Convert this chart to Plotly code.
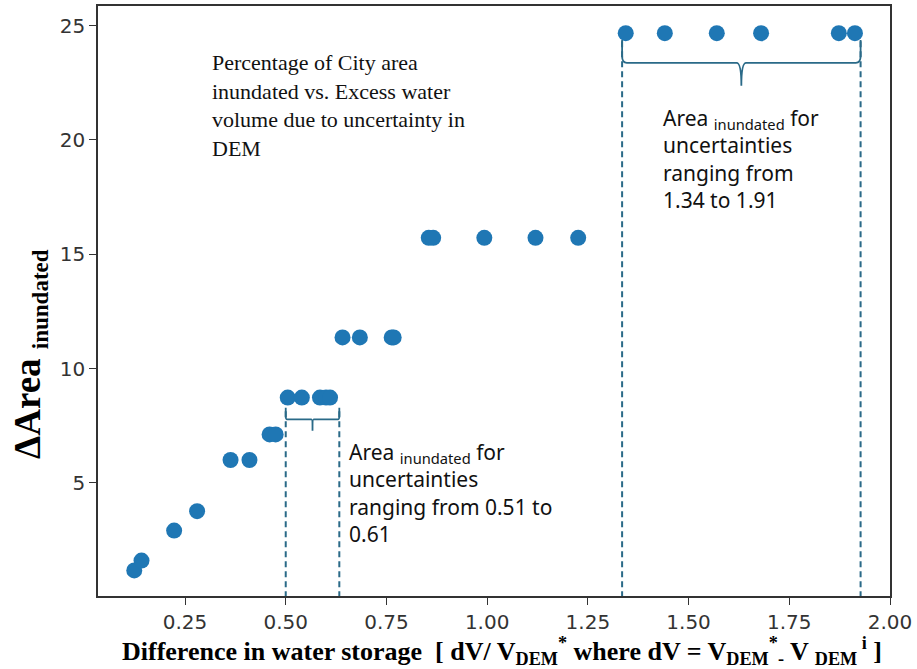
import plotly.graph_objects as go

# ---- data ----
x_vals = [0.124, 0.142, 0.223, 0.280, 0.363, 0.410, 0.460, 0.475,
          0.505, 0.540, 0.585, 0.600, 0.610,
          0.641, 0.684, 0.763, 0.768,
          0.855, 0.866, 0.993, 1.120, 1.226,
          1.344, 1.441, 1.570, 1.680, 1.873, 1.913]
y_vals = [1.17, 1.60, 2.91, 3.76, 6.00, 6.00, 7.12, 7.12,
          8.73, 8.73, 8.73, 8.73, 8.73,
          11.36, 11.36, 11.36, 11.36,
          15.72, 15.72, 15.72, 15.72, 15.72,
          24.67, 24.67, 24.67, 24.67, 24.67, 24.67]

# uncertainty ranges marked with dashed lines and braces
range_start = [0.500, 1.335]
range_end = [0.633, 1.927]
range_level = [8.73, 24.67]
range_labels = ["0.51 to<br>0.61", "1.34 to 1.91"]

x_ticks = [0.25, 0.50, 0.75, 1.00, 1.25, 1.50, 1.75, 2.00]
y_ticks = [5, 10, 15, 20, 25]

# ---- styles ----
marker_color = "#1f77b4"
accent = "#2a6a88"
arm_gap = [0.45, 0.30]      # gap between points row and brace arms (y units)
brace_depth = [1.0, 2.0]    # total brace height (y units)

fig = go.Figure()
fig.add_trace(go.Scatter(
    x=x_vals, y=y_vals, mode="markers",
    marker=dict(size=16, color=marker_color, line=dict(width=0)),
    showlegend=False, hoverinfo="x+y"))

shapes = []
for x0, x1, lvl, gap, depth in zip(range_start, range_end, range_level, arm_gap, brace_depth):
    top = lvl - gap
    yh = top - depth * 0.5
    tip = top - depth
    xm = (x0 + x1) / 2
    dx = (x1 - x0) * 0.02
    for xv in (x0, x1):
        shapes.append(dict(type="line", xref="x", yref="y", x0=xv, x1=xv, y0=0, y1=top,
                           line=dict(color=accent, width=2, dash="6px,4px")))
    r = depth * 0.15
    path = (f"M {x0},{top} L {x0},{yh + r} Q {x0},{yh} {x0 + dx},{yh} "
            f"L {xm - dx},{yh} Q {xm},{yh} {xm},{tip} "
            f"Q {xm},{yh} {xm + dx},{yh} L {x1 - dx},{yh} "
            f"Q {x1},{yh} {x1},{yh + r} L {x1},{top}")
    shapes.append(dict(type="path", xref="x", yref="y", path=path,
                       line=dict(color=accent, width=1.8)))

sans = "Noto Sans"
serif = "Liberation Serif"
annotations = [
    dict(xref="paper", yref="paper", x=0.142, y=0.928, xanchor="left", yanchor="top",
         align="left", showarrow=False,
         text="Percentage of City area<br>inundated vs. Excess water<br>volume due to uncertainty in<br>DEM",
         font=dict(family=serif, size=22, color="#111")),
    dict(xref="paper", yref="paper", x=0.711, y=0.838, xanchor="left", yanchor="top",
         align="left", showarrow=False,
         text=f"Area <sub>inundated</sub> for<br>uncertainties<br>ranging from<br>{range_labels[1]}",
         font=dict(family=sans, size=21, color="#111")),
    dict(xref="paper", yref="paper", x=0.314, y=0.272, xanchor="left", yanchor="top",
         align="left", showarrow=False,
         text=f"Area <sub>inundated</sub> for<br>uncertainties<br>ranging from {range_labels[0]}",
         font=dict(family=sans, size=21, color="#111")),
    dict(xref="paper", yref="paper", x=-0.086, y=0.41, xanchor="center", yanchor="middle",
         showarrow=False, textangle=-90,
         text="<b>ΔArea <sub><span style='font-size:23px'>inundated</span></sub></b>",
         font=dict(family=serif, size=37, color="#000")),
    dict(xref="paper", yref="paper", x=0.51, y=-0.094, xanchor="center", yanchor="middle",
         showarrow=False,
         text=("<b>Difference in water storage  [ dV/ V<sub>DEM</sub><sup>*</sup> where dV = "
               "V<sub>DEM</sub><sup>*</sup><sub>-</sub> V <sub>DEM</sub><sup> i</sup> ]</b>"),
         font=dict(family=serif, size=26, color="#000")),
]

axis_common = dict(showline=True, linecolor="#333", linewidth=1.6, mirror=True,
                   ticks="outside", ticklen=7, tickwidth=1.4, tickcolor="#333",
                   showgrid=False, zeroline=False, automargin=False,
                   tickfont=dict(family="DejaVu Sans", size=20, color="#333"))

fig.update_layout(
    template="none",
    width=917, height=669,
    margin=dict(l=98, r=27, t=6, b=73),
    plot_bgcolor="white", paper_bgcolor="white",
    xaxis=dict(range=[0.034, 2.0], tickvals=x_ticks,
               ticktext=[f"{v:.2f}" for v in x_ticks], **axis_common),
    yaxis=dict(range=[0.05, 25.86], tickvals=y_ticks, **axis_common),
    shapes=shapes, annotations=annotations,
)

fig.write_html("out.html", config={"displayModeBar": False},
               post_script="document.body.style.margin='0';")
